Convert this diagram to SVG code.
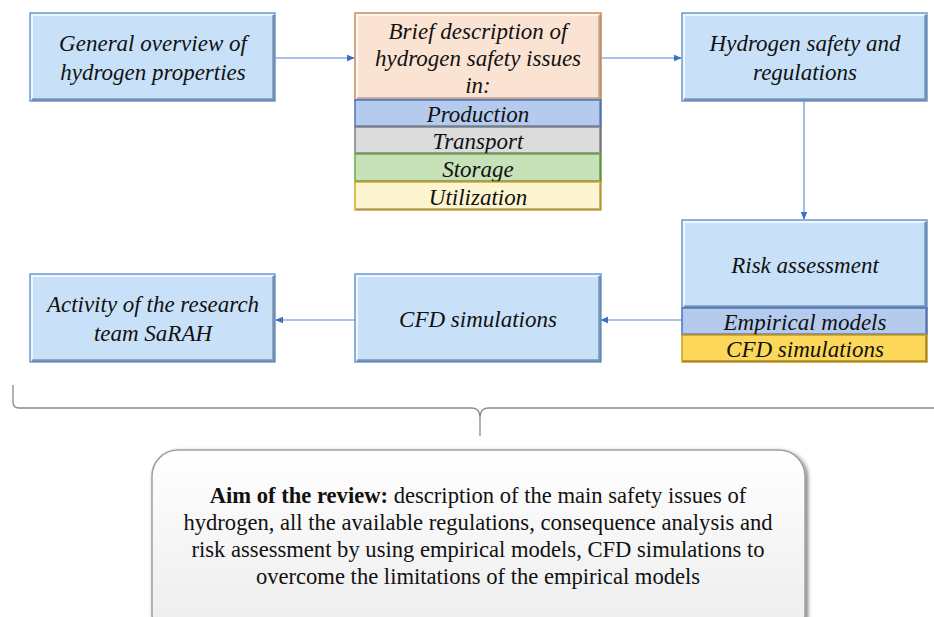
<svg xmlns="http://www.w3.org/2000/svg" width="934" height="617" viewBox="0 0 934 617">
<defs>
<style>
.t{font-family:"Liberation Serif","Times New Roman",serif;font-style:italic;font-size:23px;fill:#111;text-anchor:middle}
.b{font-family:"Liberation Serif","Times New Roman",serif;font-size:22.6px;fill:#111;text-anchor:middle}
.blue{fill:#c8e1f8;stroke:#6f9bd4;stroke-width:1.5}
.hl{fill:none;stroke:#ffffff;stroke-opacity:0.7;stroke-width:2}
.sh{fill:none;stroke:#3b5778;stroke-opacity:0.55;stroke-width:2.5}
.con{stroke:#8eaee0;stroke-width:1.6;fill:none}
</style>
<marker id="ah" markerWidth="8" markerHeight="8" refX="7" refY="4" orient="auto" markerUnits="userSpaceOnUse">
<path d="M0,0.8 L8,4 L0,7.2 z" fill="#3f6fc4"/>
</marker>
<linearGradient id="gbox" x1="0" y1="0" x2="0" y2="1">
<stop offset="0" stop-color="#ffffff"/>
<stop offset="1" stop-color="#ececec"/>
</linearGradient>
<filter id="ds" x="-5%" y="-10%" width="110%" height="130%">
<feGaussianBlur in="SourceAlpha" stdDeviation="2"/>
<feOffset dx="1.5" dy="2"/>
<feComponentTransfer><feFuncA type="linear" slope="0.55"/></feComponentTransfer>
<feMerge><feMergeNode/><feMergeNode in="SourceGraphic"/></feMerge>
</filter>
</defs>
<rect width="934" height="617" fill="#ffffff"/>

<g id="connectors">
<line class="con" x1="275" y1="58" x2="354" y2="58" marker-end="url(#ah)"/>
<line class="con" x1="601" y1="58" x2="681" y2="58" marker-end="url(#ah)"/>
<line class="con" x1="804" y1="101" x2="804" y2="219" marker-end="url(#ah)"/>
<line class="con" x1="682" y1="320" x2="601" y2="320" marker-end="url(#ah)"/>
<line class="con" x1="355" y1="320" x2="276" y2="320" marker-end="url(#ah)"/>
</g>

<g id="n1">
<rect class="blue" x="30" y="13" width="245" height="88"/>
<path class="hl" d="M32,99 L32,15 L273,15"/>
<path class="sh" d="M273.5,15 L273.5,99.5 L32,99.5"/>
<text class="t" x="153" y="51">General overview of</text>
<text class="t" x="153" y="80">hydrogen properties</text>
</g>

<g id="n2">
<rect x="355" y="13" width="246" height="87" fill="#fbe3d4" stroke="#d08c5a" stroke-width="1.5"/>
<path class="hl" d="M357,98 L357,15 L599,15"/>
<path d="M599.5,15 L599.5,98.5 L357,98.5" fill="none" stroke="#8a6a50" stroke-opacity="0.5" stroke-width="2.5"/>
<text class="t" x="478" y="39">Brief description of</text>
<text class="t" x="478" y="66">hydrogen safety issues</text>
<text class="t" x="478" y="93">in:</text>
</g>
<g id="n2a">
<rect x="355" y="100" width="246" height="27" fill="#b5cbee" stroke="#4a74c2" stroke-width="1.5"/>
<path d="M600,101 L600,126 L356,126" fill="none" stroke="#3b4f78" stroke-opacity="0.45" stroke-width="2"/>
<text class="t" x="478" y="122">Production</text>
</g>
<g id="n2b">
<rect x="355" y="127" width="246" height="27" fill="#dcdcdc" stroke="#808080" stroke-width="1.5"/>
<path d="M600,128 L600,153 L356,153" fill="none" stroke="#444" stroke-opacity="0.45" stroke-width="2"/>
<text class="t" x="478" y="149">Transport</text>
</g>
<g id="n2c">
<rect x="355" y="154" width="246" height="28" fill="#c7e2b8" stroke="#6aab45" stroke-width="1.5"/>
<path d="M600,155 L600,181 L356,181" fill="none" stroke="#3d5a2a" stroke-opacity="0.45" stroke-width="2"/>
<text class="t" x="478" y="177">Storage</text>
</g>
<g id="n2d">
<rect x="355" y="182" width="246" height="28" fill="#fdf5d0" stroke="#d6a52a" stroke-width="1.5"/>
<path d="M600,183 L600,209 L356,209" fill="none" stroke="#7a6a3a" stroke-opacity="0.45" stroke-width="2"/>
<text class="t" x="478" y="205">Utilization</text>
</g>

<g id="n3">
<rect class="blue" x="682" y="13" width="245" height="88"/>
<path class="hl" d="M684,99 L684,15 L925,15"/>
<path class="sh" d="M925.5,15 L925.5,99.5 L684,99.5"/>
<text class="t" x="805" y="51">Hydrogen safety and</text>
<text class="t" x="805" y="80">regulations</text>
</g>

<g id="n4">
<rect class="blue" x="682" y="220" width="245" height="88"/>
<path class="hl" d="M684,306 L684,222 L925,222"/>
<path class="sh" d="M925.5,222 L925.5,306.5 L684,306.5"/>
<text class="t" x="805" y="273">Risk assessment</text>
</g>
<g id="n4a">
<rect x="682" y="308" width="245" height="27" fill="#b5cbee" stroke="#4a74c2" stroke-width="1.5"/>
<path d="M926,309 L926,334 L683,334" fill="none" stroke="#3b4f78" stroke-opacity="0.45" stroke-width="2"/>
<text class="t" x="805" y="330">Empirical models</text>
</g>
<g id="n4b">
<rect x="682" y="335" width="245" height="27" fill="#fcd75a" stroke="#c99a1c" stroke-width="1.5"/>
<path d="M926,336 L926,361 L683,361" fill="none" stroke="#6a5410" stroke-opacity="0.45" stroke-width="2"/>
<text class="t" x="805" y="357">CFD simulations</text>
</g>

<g id="n5">
<rect class="blue" x="355" y="274" width="246" height="88"/>
<path class="hl" d="M357,360 L357,276 L599,276"/>
<path class="sh" d="M599.5,276 L599.5,360.5 L357,360.5"/>
<text class="t" x="478" y="327">CFD simulations</text>
</g>

<g id="n6">
<rect class="blue" x="30" y="274" width="245" height="88"/>
<path class="hl" d="M32,360 L32,276 L273,276"/>
<path class="sh" d="M273.5,276 L273.5,360.5 L32,360.5"/>
<text class="t" x="153" y="312">Activity of the research</text>
<text class="t" x="153" y="341">team SaRAH</text>
</g>

<g id="brace">
<path d="M13,385 L13,402 Q13,408 19,408 L472,408 Q480,408 480,418 L480,436 M480,418 Q480,408 488,408 L934,408" fill="none" stroke="#8a8a8a" stroke-width="1.3"/>
</g>

<g id="aim">
<rect x="152" y="450" width="653" height="190" rx="26" ry="26" fill="url(#gbox)" stroke="#a0a0a0" stroke-width="1.5" filter="url(#ds)"/>
<text class="b" x="478" y="503"><tspan font-weight="bold">Aim of the review:</tspan> description of the main safety issues of</text>
<text class="b" x="478" y="530">hydrogen, all the available regulations, consequence analysis and</text>
<text class="b" x="478" y="557">risk assessment by using empirical models, CFD simulations to</text>
<text class="b" x="478" y="584">overcome the limitations of the empirical models</text>
</g>
</svg>
